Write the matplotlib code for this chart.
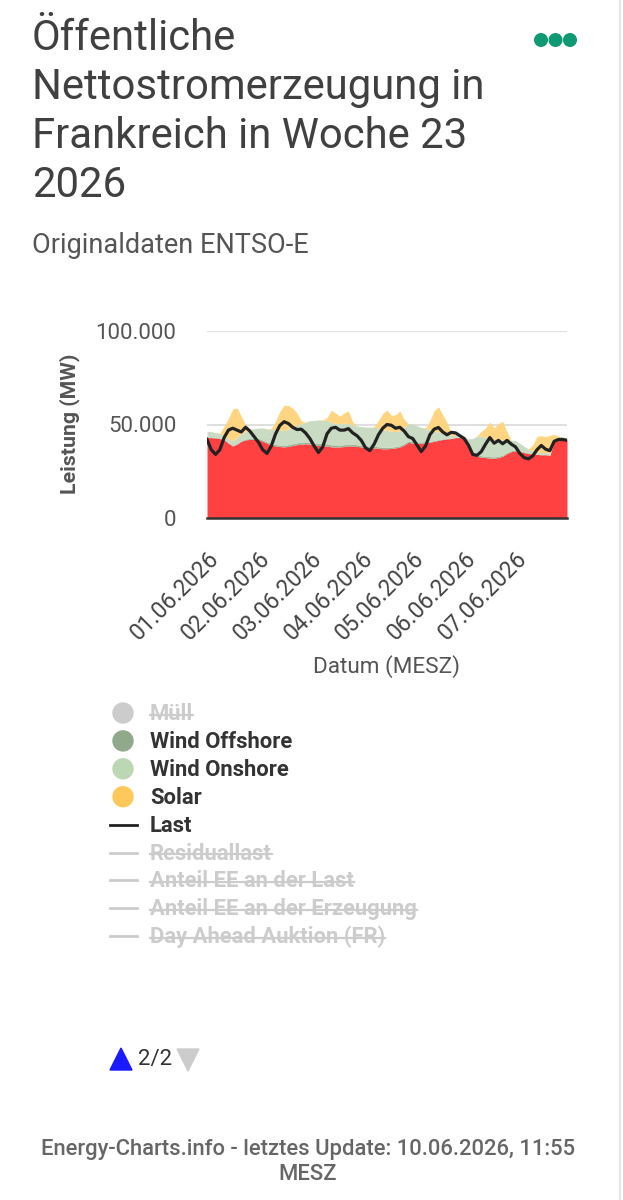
import matplotlib
matplotlib.use('Agg')
import matplotlib.pyplot as plt
import numpy as np
from matplotlib.patches import Circle, Polygon
from matplotlib.lines import Line2D

# ---------------- data (MW, 2-hour steps, week 23 / 2026) ----------------
hours = list(range(0, 169, 2))
tick_hours = [0, 24, 48, 72, 96, 120, 144]
tick_labels = ["01.06.2026", "02.06.2026", "03.06.2026", "04.06.2026",
               "05.06.2026", "06.06.2026", "07.06.2026"]

basis = [43.0, 43.0, 42.8, 42.5, 41.8, 40.0, 38.5, 39.5, 41.0, 41.8, 42.0, 42.2,
         42.0, 41.0, 40.0, 39.0, 38.5, 38.2, 38.0, 38.3, 38.8, 39.2, 39.5, 39.7,
         39.5, 39.0, 38.8, 38.5, 38.5, 38.0, 38.0, 38.0, 38.2, 38.5, 38.5, 38.3,
         38.0, 37.8, 37.5, 37.5, 37.3, 37.0, 37.0, 37.2, 37.5, 38.0, 39.0, 40.5,
         40.0, 40.0, 40.0, 40.3, 40.5, 41.0, 41.5, 42.0, 42.3, 42.5, 43.0, 43.0,
         42.0, 38.0, 34.0, 33.0, 32.5, 32.3, 32.0, 32.0, 32.3, 33.0, 34.5, 35.5,
         36.0, 35.5, 35.0, 34.5, 34.3, 34.0, 33.8, 33.8, 33.5, 41.0, 42.0, 42.0,
         42.0]
wind_offshore = [0.4, 0.4, 0.4, 0.3, 0.3, 0.3, 0.3, 0.4, 0.4, 0.5, 0.5, 0.6,
                 0.6, 0.7, 0.7, 0.8, 0.8, 0.8, 0.8, 0.9, 0.9, 1.0, 1.0, 1.0,
                 1.1, 1.1, 1.2, 1.2, 1.2, 1.1, 1.1, 1.0, 1.0, 1.0, 0.9, 0.9,
                 0.9, 0.9, 0.9, 0.9, 0.8, 0.8, 0.8, 0.7, 0.7, 0.7, 0.8, 0.8,
                 0.8, 0.7, 0.7, 0.6, 0.5, 0.5, 0.4, 0.3, 0.3, 0.2, 0.2, 0.2,
                 0.2, 0.3, 0.5, 0.7, 0.8, 0.8, 0.8, 0.7, 0.7, 0.7, 0.6, 0.5,
                 0.5, 0.4, 0.3, 0.3, 0.2, 0.2, 0.2, 0.2, 0.2, 0.2, 0.2, 0.2,
                 0.2]
wind_onshore = [3.0, 2.8, 2.5, 2.3, 2.0, 2.0, 2.5, 3.0, 3.5, 4.0, 4.5, 5.0,
                5.5, 6.5, 7.0, 7.5, 8.0, 8.0, 8.0, 8.5, 9.0, 9.5, 10.0, 10.5,
                11.5, 12.0, 12.5, 12.5, 12.5, 12.0, 11.5, 11.5, 11.5, 11.0, 10.5, 10.0,
                10.0, 10.0, 10.2, 10.3, 10.0, 9.5, 9.0, 8.5, 8.0, 8.0, 8.5, 9.0,
                9.5, 8.5, 7.8, 7.0, 6.0, 5.0, 4.0, 3.0, 2.0, 1.5, 1.0, 1.0,
                1.5, 4.0, 8.0, 10.0, 10.5, 10.0, 9.5, 9.0, 8.5, 8.0, 7.0, 5.5,
                5.0, 4.0, 3.0, 2.0, 1.5, 1.0, 1.0, 1.0, 1.0, 1.0, 1.0, 1.0,
                1.0]
solar = [0, 0, 0, 0.3, 5.0, 11.0, 17.0, 16.0, 9.5, 3.5, 0.5, 0,
         0, 0, 0, 0.5, 4.5, 10.0, 13.5, 12.5, 10.0, 6.5, 1.5, 0,
         0, 0, 0, 0.3, 1.5, 6.5, 5.5, 4.0, 5.5, 6.8, 1.5, 0,
         0, 0, 0, 0.3, 4.0, 8.5, 11.0, 8.5, 9.0, 10.5, 4.5, 0,
         0, 0, 0, 0.3, 5.0, 11.0, 13.5, 10.0, 6.5, 1.5, 0.3, 0,
         0, 0, 0, 0.2, 2.5, 5.0, 9.0, 6.5, 9.0, 10.0, 4.0, 0,
         0, 0, 0, 0.2, 3.0, 8.5, 9.0, 8.5, 9.5, 2.5, 0.5, 0,
         0]
last = [42.0, 36.5, 34.0, 36.5, 43.0, 47.0, 48.0, 47.0, 46.0, 48.5, 46.5, 43.5,
        40.5, 36.5, 34.5, 38.5, 45.0, 49.5, 51.5, 50.5, 48.5, 47.3, 47.5, 45.5,
        42.5, 38.5, 35.0, 38.0, 45.0, 48.0, 48.5, 47.0, 47.0, 47.8, 45.5, 44.0,
        41.5, 37.5, 36.0, 39.5, 44.5, 48.0, 50.0, 49.6, 48.0, 48.5, 46.5, 43.5,
        42.5, 39.0, 35.5, 38.5, 44.5, 47.5, 48.4, 46.0, 44.5, 45.8, 45.5, 44.0,
        42.5, 39.0, 34.0, 33.5, 35.5, 39.5, 43.0, 40.0, 41.5, 39.7, 41.5, 39.5,
        38.0, 34.5, 32.3, 31.6, 33.2, 36.5, 38.8, 36.8, 36.0, 41.0, 42.0, 42.0,
        41.5]

legend_items = ["Müll", "Wind Offshore", "Wind Onshore", "Solar", "Last",
                "Residuallast", "Anteil EE an der Last",
                "Anteil EE an der Erzeugung", "Day Ahead Auktion (FR)"]
legend_kind = ["dot", "dot", "dot", "dot", "line", "line", "line", "line", "line"]
legend_visible = [False, True, True, True, True, False, False, False, False]
legend_colors = ["#cccccc", "#8fa98a", "#bcd7b4", "#ffc85a", "#222222",
                 "#cccccc", "#cccccc", "#cccccc", "#cccccc"]

# ---------------- figure ----------------
plt.rcParams['font.family'] = ['Roboto', 'DejaVu Sans']
W, H = 623, 1200
fig = plt.figure(figsize=(W / 100, H / 100), dpi=100)
fig.patch.set_facecolor('white')

def fx(px):
    return px / W

def fy(py):
    return 1 - py / H

# title
title_lines = ["Öffentliche", "Nettostromerzeugung in", "Frankreich in Woche 23", "2026"]
for i, t in enumerate(title_lines):
    fig.text(fx(32), fy(50 + 49 * i), t, fontsize=30.2, color='#404040',
             va='baseline', ha='left')
fig.text(fx(32), fy(253), "Originaldaten ENTSO-E", fontsize=19.5,
         color='#555555', va='baseline', ha='left')

# three dots menu
for cx in (541, 555.5, 570):
    fig.patches.append(Circle((cx / 100, (H - 40) / 100), 0.063,
                              transform=fig.dpi_scale_trans, color='#0e9a73'))

# right border
fig.add_artist(Line2D([fx(620), fx(620)], [0, 1], color='#e6e6e6', lw=1.5))

# ---------------- axes ----------------
ax = fig.add_axes([fx(207), fy(518), (567 - 207) / W, (518 - 331) / H])
x = np.array(hours, dtype=float)
b = np.array(basis) * 1000
wo = np.array(wind_offshore) * 1000
wn = np.array(wind_onshore) * 1000
so = np.array(solar) * 1000
ld = np.array(last) * 1000

l1 = b
l2 = l1 + wo
l3 = l2 + wn
l4 = l3 + so
ax.fill_between(x, 0, l1, color='#ff4141', lw=0, zorder=2)
ax.fill_between(x, l1, l2, color='#9cb597', lw=0, zorder=2)
ax.fill_between(x, l2, l3, color='#c9dcc3', lw=0, zorder=2)
ax.fill_between(x, l3, l4, color='#ffd582', lw=0, zorder=2)
ax.plot(x, ld, color='#222222', lw=2.3, zorder=4, solid_joinstyle='round')

ax.set_xlim(0, 168)
ax.set_ylim(0, 100000)
for s in ax.spines.values():
    s.set_visible(False)
for yv in (50000, 100000):
    ax.axhline(yv, color='#dcdcdc', lw=1.3, zorder=1)
ax.axhline(0, color='#333333', lw=1.8, zorder=5, clip_on=False)

ax.set_yticks([0, 50000, 100000])
ax.set_yticklabels(['0', '50.000', '100.000'])
ax.tick_params(axis='y', length=0, pad=22, labelsize=16, labelcolor='#555555')
ax.set_xticks(tick_hours)
ax.set_xticklabels(tick_labels, rotation=45, ha='right', va='top',
                   rotation_mode='anchor')
ax.tick_params(axis='x', length=0, pad=21, labelsize=16.5, labelcolor='#444444')

fig.text(fx(70), fy(424), "Leistung (MW)", rotation=90, fontsize=15.3,
         fontweight='bold', color='#555555', ha='center', va='center')
fig.text(fx(386), fy(667), "Datum (MESZ)", fontsize=16.2, color='#555555',
         ha='center', va='center')

# ---------------- legend ----------------
strike = []
for i, (name, kind, vis, col) in enumerate(zip(legend_items, legend_kind,
                                                legend_visible, legend_colors)):
    cy = 713 + 27.9 * i
    if kind == 'dot':
        fig.patches.append(Circle((123 / 100, (H - cy) / 100), 0.10,
                                  transform=fig.dpi_scale_trans, color=col))
    else:
        fig.add_artist(Line2D([fx(110), fx(137)], [fy(cy), fy(cy)],
                              color=col, lw=2.0))
    tcol = '#333333' if vis else '#cccccc'
    t = fig.text(fx(150), fy(cy + 7), name, fontsize=15.8, fontweight='bold',
                 color=tcol, ha='left', va='baseline')
    if not vis:
        strike.append((t, cy))

fig.canvas.draw()
renderer = fig.canvas.get_renderer()
for t, cy in strike:
    bb = t.get_window_extent(renderer)
    fig.add_artist(Line2D([bb.x0 / W, bb.x1 / W], [fy(cy + 1.5), fy(cy + 1.5)],
                          color='#cccccc', lw=1.6))

# pager
fig.patches.append(Polygon([(110 / 100, (H - 1070) / 100), (132 / 100, (H - 1070) / 100),
                            (121 / 100, (H - 1048) / 100)], closed=True,
                           transform=fig.dpi_scale_trans, color='#1a1aff'))
fig.text(fx(138), fy(1060), "2/2", fontsize=16, color='#333333',
         ha='left', va='center')
fig.patches.append(Polygon([(177 / 100, (H - 1049) / 100), (199 / 100, (H - 1049) / 100),
                            (188 / 100, (H - 1071) / 100)], closed=True,
                           transform=fig.dpi_scale_trans, color='#cccccc'))

# footer
fig.text(fx(308), fy(1150), "Energy-Charts.info - letztes Update: 10.06.2026, 11:55",
         fontsize=15.8, color='#666666', fontweight='medium', ha='center', va='center')
fig.text(fx(308), fy(1175), "MESZ", fontsize=15.8, color='#666666',
         fontweight='medium', ha='center', va='center')

fig.savefig('out.png', dpi=100, facecolor='white')
